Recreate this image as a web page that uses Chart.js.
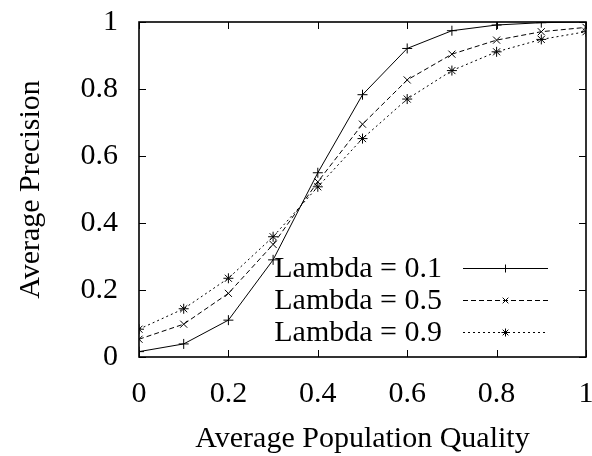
<!DOCTYPE html>
<html>
<head>
<meta charset="utf-8">
<script src="https://cdn.jsdelivr.net/npm/chart.js@4/dist/chart.umd.min.js"></script>
<style>
  html, body { margin: 0; padding: 0; background: #fff; }
  #wrap { width: 592px; height: 456px; }
</style>
</head>
<body>
<div id="wrap"><canvas id="c" width="592" height="456"></canvas></div>
<script>
// 数据：近似值
const xValues = [0, 0.1, 0.2, 0.3, 0.4, 0.5, 0.6, 0.7, 0.8, 0.9, 1];
const lambda01 = [0.016, 0.039, 0.11, 0.29, 0.55, 0.783, 0.921, 0.974, 0.991, 0.998, 1.0];
const lambda05 = [0.053, 0.098, 0.19, 0.336, 0.523, 0.695, 0.827, 0.904, 0.946, 0.971, 0.984];
const lambda09 = [0.083, 0.144, 0.235, 0.359, 0.508, 0.652, 0.77, 0.855, 0.911, 0.948, 0.971];
const seriesLabels = ['Lambda = 0.1', 'Lambda = 0.5', 'Lambda = 0.9'];
const tickValues = [0, 0.2, 0.4, 0.6, 0.8, 1];
const tickLabels = ['0', '0.2', '0.4', '0.6', '0.8', '1'];

const FONT = '"Liberation Serif", "Times New Roman", serif';
const FS = 30;

function toPoints(ys) {
    return xValues.map((x, i) => ({ x: x, y: ys[i] }));
}

function fixTicks(scale) {
    scale.ticks = tickValues.map(v => ({ value: v }));
}

// gnuplot 风格的边框和向内的刻度
const borderPlugin = {
    id: 'gnuBorder',
    afterDatasetsDraw(chart) {
        const { ctx, chartArea: a, scales } = chart;
        const len = 7;
        ctx.save();
        ctx.strokeStyle = '#000';
        ctx.lineWidth = 1;
        ctx.beginPath();
        tickValues.forEach(v => {
            const px = Math.round(scales.x.getPixelForValue(v)) + 0.5;
            ctx.moveTo(px, a.bottom); ctx.lineTo(px, a.bottom - len);
            ctx.moveTo(px, a.top); ctx.lineTo(px, a.top + len);
            const py = Math.round(scales.y.getPixelForValue(v)) + 0.5;
            ctx.moveTo(a.left, py); ctx.lineTo(a.left + len, py);
            ctx.moveTo(a.right, py); ctx.lineTo(a.right - len, py);
        });
        ctx.stroke();
        ctx.lineWidth = 1.6;
        ctx.strokeRect(a.left, a.top, a.right - a.left, a.bottom - a.top);
        ctx.restore();
    }
};

// 图例：文字右对齐，样例线在右边
const keyPlugin = {
    id: 'gnuKey',
    afterDatasetsDraw(chart) {
        const ctx = chart.ctx;
        const textRight = 442, x0 = 463, x1 = 548, y0 = 268, gap = 32;
        ctx.save();
        chart.data.datasets.forEach((ds, i) => {
            const y = y0 + gap * i;
            ctx.font = FS + 'px ' + FONT;
            ctx.fillStyle = '#000';
            ctx.textAlign = 'right';
            ctx.textBaseline = 'middle';
            ctx.fillText(ds.label, textRight, y + 1);
            ctx.strokeStyle = '#000';
            ctx.lineWidth = 1;
            ctx.setLineDash(ds.borderDash || []);
            ctx.beginPath();
            ctx.moveTo(x0, y + 0.5);
            ctx.lineTo(x1, y + 0.5);
            ctx.stroke();
            ctx.setLineDash([]);
            Chart.helpers.drawPoint(ctx, {
                pointStyle: ds.pointStyle, rotation: 0, radius: 4, borderWidth: 1
            }, (x0 + x1) / 2, y + 0.5);
        });
        ctx.restore();
    }
};

const common = {
    borderColor: '#000',
    backgroundColor: '#000',
    pointBorderColor: '#000',
    borderWidth: 1,
    pointRadius: 5,
    pointBorderWidth: 1,
    fill: false,
    tension: 0
};

new Chart(document.getElementById('c'), {
    type: 'line',
    data: {
        datasets: [
            { ...common, label: seriesLabels[0], data: toPoints(lambda01), pointStyle: 'cross' },
            { ...common, label: seriesLabels[1], data: toPoints(lambda05), pointStyle: 'crossRot', borderDash: [5, 3] },
            { ...common, label: seriesLabels[2], data: toPoints(lambda09), pointStyle: 'star', borderDash: [2, 3] }
        ]
    },
    options: {
        responsive: false,
        animation: false,
        devicePixelRatio: 1,
        layout: { padding: { top: 22, right: 5, left: 0, bottom: 0 } },
        plugins: {
            legend: { display: false },
            tooltip: { enabled: false }
        },
        scales: {
            x: {
                type: 'linear',
                min: 0,
                max: 1,
                afterBuildTicks: fixTicks,
                afterFit(s) { s.height = 99; s.paddingLeft = 0; s.paddingRight = 0; },
                grid: { display: false, drawTicks: false },
                border: { display: false },
                ticks: {
                    color: '#000',
                    padding: 19,
                    maxRotation: 0,
                    autoSkip: false,
                    font: { family: FONT, size: FS },
                    callback: (v, i) => tickLabels[i]
                },
                title: {
                    display: true,
                    text: 'Average Population Quality',
                    color: '#000',
                    font: { family: FONT, size: FS, lineHeight: 1 },
                    padding: { top: 0, bottom: 2 }
                }
            },
            y: {
                type: 'linear',
                min: 0,
                max: 1,
                afterBuildTicks: fixTicks,
                afterFit(s) { s.width = 139; s.paddingTop = 0; s.paddingBottom = 0; },
                grid: { display: false, drawTicks: false },
                border: { display: false },
                ticks: {
                    color: '#000',
                    padding: 21,
                    autoSkip: false,
                    font: { family: FONT, size: FS },
                    callback: (v, i) => tickLabels[i]
                },
                title: {
                    display: true,
                    text: 'Average Precision',
                    color: '#000',
                    font: { family: FONT, size: FS, lineHeight: 1 },
                    padding: { top: 16, bottom: 0 }
                }
            }
        }
    },
    plugins: [borderPlugin, keyPlugin]
});
</script>
</body>
</html>
